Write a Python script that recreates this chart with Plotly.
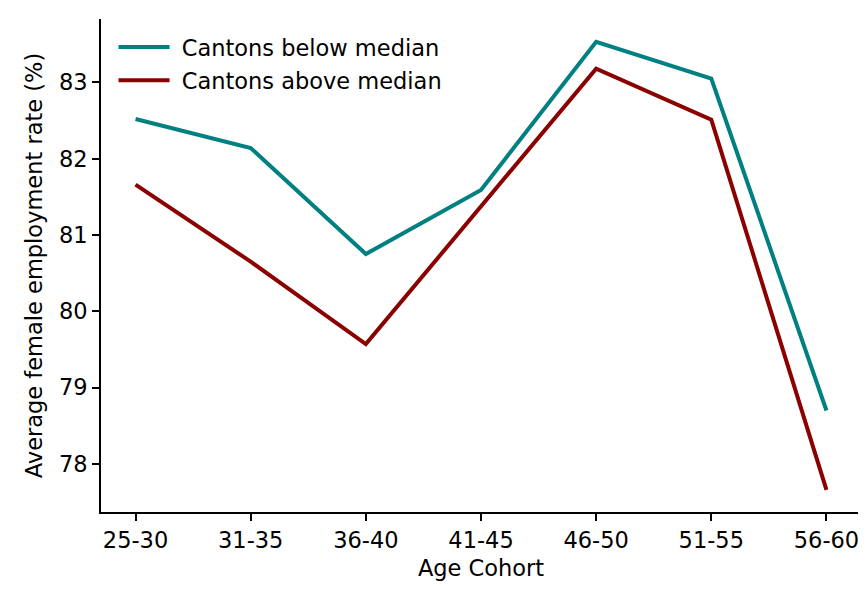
import plotly.graph_objects as go

cohorts = ["25-30", "31-35", "36-40", "41-45", "46-50", "51-55", "56-60"]
below_median = [82.52, 82.14, 80.75, 81.59, 83.53, 83.05, 78.70]
above_median = [81.66, 80.65, 79.57, 81.38, 83.18, 82.51, 77.66]
y_ticks = [78, 79, 80, 81, 82, 83]
series_names = ["Cantons below median", "Cantons above median"]

FONT = "DejaVu Sans"
fs = 22.5

fig = go.Figure()
fig.add_trace(go.Scatter(x=list(range(len(cohorts))), y=below_median, mode="lines",
                         name="\u00a0" + series_names[0], legendgroup="a",
                         line=dict(color="#008080", width=4)))
fig.add_trace(go.Scatter(x=list(range(len(cohorts))), y=above_median, mode="lines",
                         name="\u00a0" + series_names[1], legendgroup="b",
                         line=dict(color="#8B0000", width=4)))

fig.update_layout(
    width=858, height=581,
    margin=dict(l=93, r=5, t=11, b=77),
    paper_bgcolor="white", plot_bgcolor="white",
    font=dict(family=FONT, size=fs, color="black"),
    showlegend=True,
    legend=dict(x=0.0165, y=0.986, xanchor="left", yanchor="top",
                bgcolor="rgba(0,0,0,0)", borderwidth=0,
                font=dict(family=FONT, size=fs, color="black"),
                traceorder="grouped", tracegroupgap=1, itemwidth=51),
    xaxis=dict(
        range=[-0.3, 6.3], tickmode="array", tickvals=list(range(len(cohorts))),
        ticktext=cohorts, showgrid=False, zeroline=False,
        showline=True, linecolor="black", linewidth=1.7,
        ticks="outside", ticklen=7, tickwidth=1.7, tickcolor="black",
        title=dict(text="Age Cohort", standoff=8, font=dict(size=fs)),
    ),
    yaxis=dict(
        range=[77.37, 83.83], tickmode="array", tickvals=y_ticks,
        ticktext=[str(v) for v in y_ticks], showgrid=False, zeroline=False,
        showline=True, linecolor="black", linewidth=1.7,
        ticks="outside", ticklen=7, tickwidth=1.7, tickcolor="black",
        title=dict(text="Average female employment rate (%)", standoff=10, font=dict(size=fs)),
    ),
)

fig.write_html("out.html")
